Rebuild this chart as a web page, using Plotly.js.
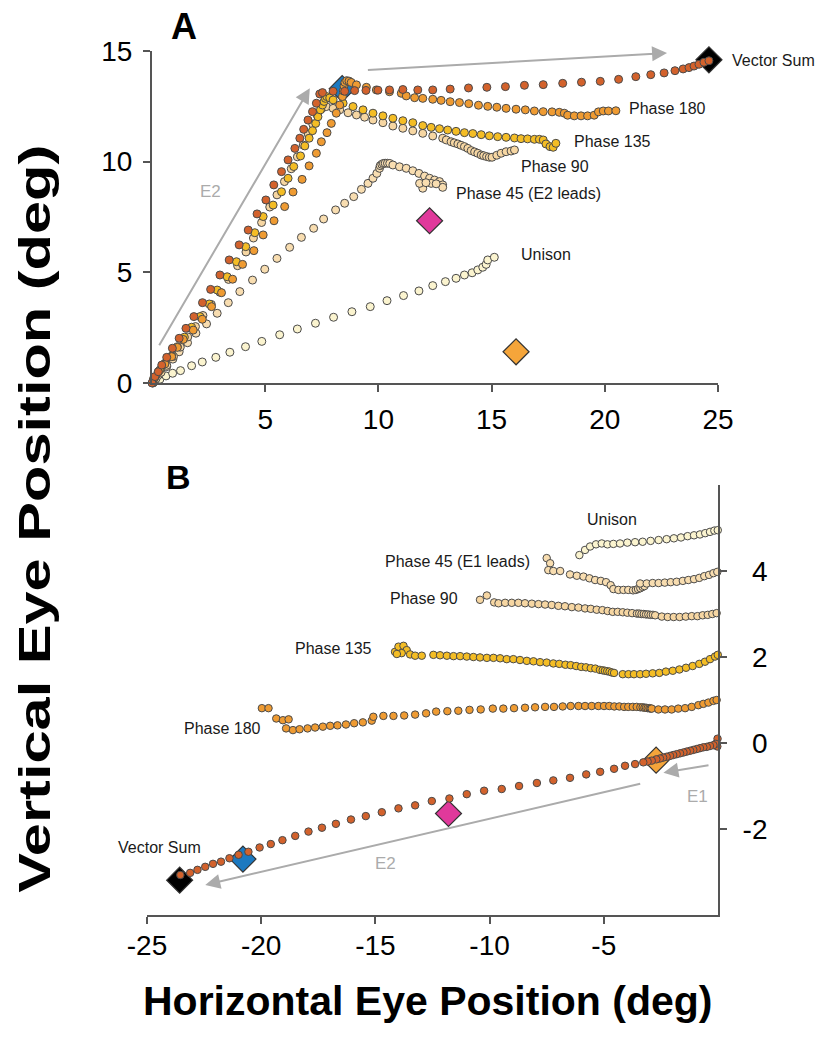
<!DOCTYPE html>
<html><head><meta charset="utf-8">
<script src="https://cdn.plot.ly/plotly-3.0.1.min.js"></script>
<style>html,body{margin:0;padding:0;background:#fff}#chart{width:835px;height:1050px}</style>
</head><body><div id="chart"></div>
<script>
// ---------------- Panel A data (deg) ----------------
const vsA_x = [0,0.13,0.28,0.43,0.65,0.90,1.20,1.50,1.85,2.23,2.59,3.00,3.41,3.85,4.25,4.64,5.03,5.38,5.72,6.01,6.31,6.53,6.70,6.89,7.09,7.26,7.41,7.53,8.00,8.51,8.95,9.45,9.98,10.49,11.08,11.74,12.40,13.17,13.98,14.79,15.61,16.45,17.28,18.14,18.97,19.80,20.61,21.37,22.03,22.62,23.10,23.46,23.72,23.94,24.16,24.38,24.60];
const vsA_y = [0,0.29,0.51,0.81,1.16,1.57,2.02,2.47,3.00,3.63,4.23,4.88,5.56,6.24,6.91,7.64,8.27,8.95,9.55,10.08,10.60,11.06,11.46,11.88,12.26,12.64,13.06,13.12,13.18,13.18,13.21,13.22,13.23,13.24,13.26,13.24,13.24,13.28,13.33,13.36,13.39,13.45,13.48,13.54,13.59,13.63,13.72,13.84,13.93,14.01,14.11,14.19,14.25,14.32,14.40,14.49,14.56];

const p180A_x = [0.06,0.28,0.57,0.87,1.12,1.38,1.82,2.22,2.63,3.07,3.56,4.00,4.50,4.91,5.39,5.86,6.23,6.63,6.94,7.26,7.48,7.73,7.92,8.14,8.29,8.41,8.45,8.48,8.52,8.60,8.70,8.80,9.03,9.47,9.91,10.49,11.01,11.23,11.60,11.96,12.40,12.77,13.17,13.58,13.99,14.42,14.83,15.23,15.64,16.08,16.49,16.89,17.28,17.67,17.99,18.21,18.36,18.65,18.95,19.24,19.53,19.72,19.93,20.16,20.49];
const p180A_y = [0.17,0.51,0.86,1.19,1.61,1.97,2.39,2.88,3.45,4.08,4.69,5.36,5.98,6.69,7.33,7.97,8.63,9.20,9.81,10.38,10.90,11.31,11.73,12.19,12.56,12.94,13.20,13.42,13.58,13.66,13.64,13.58,13.47,13.36,13.24,13.16,13.09,12.97,12.89,12.86,12.82,12.77,12.71,12.67,12.62,12.55,12.50,12.46,12.41,12.37,12.34,12.29,12.26,12.25,12.23,12.19,12.10,12.07,12.07,12.07,12.10,12.25,12.29,12.29,12.30];

const p135A_x = [0.03,0.13,0.35,0.57,0.87,1.12,1.43,1.75,2.12,2.53,2.88,3.32,3.73,4.14,4.54,4.91,5.35,5.72,6.01,6.26,6.56,6.75,6.94,7.09,7.23,7.33,7.44,7.53,7.60,7.66,7.72,7.85,8.00,8.44,8.88,9.32,9.76,10.20,10.64,11.08,11.52,11.96,12.33,12.70,13.06,13.43,13.80,14.17,14.54,14.90,15.27,15.64,16.01,16.30,16.59,16.89,17.11,17.28,17.40,17.58,17.72,17.84];
const p135A_y = [0.01,0.26,0.59,0.89,1.22,1.64,2.07,2.52,3.00,3.57,4.20,4.80,5.48,6.16,6.79,7.52,8.04,8.64,9.25,9.78,10.26,10.71,11.06,11.40,11.73,12.03,12.34,12.56,12.72,12.86,12.94,12.88,12.79,12.64,12.49,12.34,12.19,12.07,11.96,11.85,11.76,11.63,11.55,11.49,11.43,11.37,11.31,11.27,11.22,11.17,11.13,11.10,11.07,11.04,11.03,11.01,11.01,10.98,10.80,10.68,10.65,10.83];

const p90A_x = [0.03,0.18,0.40,0.65,0.95,1.25,1.58,1.92,2.25,2.62,3.00,3.38,3.78,4.15,4.48,4.84,5.20,5.52,5.85,6.15,6.42,6.68,6.90,7.10,7.30,7.50,7.70,8.00,8.29,8.66,9.03,9.39,9.76,10.20,10.64,11.08,11.52,11.96,12.40,12.84,13.00,13.21,13.35,13.51,13.65,13.80,13.95,14.10,14.25,14.39,14.54,14.65,14.78,14.90,15.02,15.23,15.42,15.64,15.86,16.01];
const p90A_y = [0.02,0.20,0.48,0.80,1.20,1.62,2.08,2.55,3.05,3.55,4.10,4.68,5.30,5.92,6.55,7.25,7.95,8.50,9.10,9.68,10.22,10.75,11.25,11.70,12.10,12.40,12.49,12.41,12.34,12.21,12.11,12.01,11.88,11.76,11.61,11.51,11.39,11.28,11.16,11.06,10.98,10.90,10.85,10.80,10.74,10.68,10.60,10.50,10.44,10.38,10.30,10.27,10.23,10.20,10.20,10.29,10.38,10.45,10.48,10.53];

const p45A_x = [0.06,0.28,0.65,0.92,1.20,1.57,1.94,2.41,2.88,3.37,3.88,4.44,4.98,5.52,6.08,6.60,7.14,7.58,8.11,8.51,8.91,9.25,9.54,9.76,9.93,10.05,10.08,10.15,10.22,10.30,10.40,10.50,10.64,10.93,11.23,11.52,11.79,12.04,12.26,12.48,12.70,12.84,12.84,12.33,11.96,11.82,12.10,12.55];
const p45A_y = [0.03,0.36,0.74,1.08,1.41,1.82,2.25,2.67,3.15,3.63,4.13,4.65,5.14,5.63,6.13,6.58,6.99,7.41,7.82,8.12,8.42,8.75,9.02,9.25,9.47,9.70,9.82,9.88,9.92,9.93,9.93,9.92,9.85,9.77,9.70,9.59,9.47,9.35,9.25,9.17,9.10,8.95,8.84,9.02,8.80,9.02,9.05,9.00];

const uniA_x = [0.05,0.35,0.62,0.91,1.26,1.75,2.22,2.82,3.44,4.13,4.85,5.64,6.42,7.22,8.02,8.83,9.64,10.38,11.11,11.79,12.40,12.96,13.43,13.80,14.14,14.39,14.61,14.76,14.83,15.12];
const uniA_y = [0.00,0.17,0.32,0.44,0.56,0.78,0.95,1.16,1.39,1.64,1.88,2.18,2.44,2.70,2.97,3.22,3.45,3.72,3.95,4.16,4.40,4.58,4.73,4.88,4.98,5.11,5.23,5.36,5.56,5.68];

// endpoints: E2 alone, average, E1 alone, vector sum
const diamA_x = [8.40, 12.26, 16.08, 24.60];
const diamA_y = [13.30, 7.33, 1.41, 14.60];

// stimulation vectors drawn as arrows [tailX, tailY, headX, headY]
const arrowA_E1 = [9.47, 14.14, 22.75, 14.91];
const arrowA_E2 = [0.28, 1.64, 6.97, 13.32];

// ---------------- Panel B data (deg) ----------------
const vsB_x = [0.01,-0.02,-0.03,-0.10,-0.20,-0.35,-0.49,-0.64,-0.79,-0.93,-1.08,-1.22,-1.37,-1.51,-1.66,-1.81,-1.96,-2.10,-2.25,-2.40,-2.54,-2.70,-2.90,-3.08,-3.27,-3.63,-4.07,-4.55,-5.16,-5.77,-6.48,-7.21,-7.93,-8.71,-9.47,-10.24,-11.00,-11.76,-12.53,-13.26,-13.99,-14.72,-15.42,-16.07,-16.73,-17.34,-17.93,-18.51,-19.07,-19.58,-20.07,-20.56,-20.99,-21.39,-21.76,-22.11,-22.45,-22.79,-23.11,-23.54];
const vsB_y = [0.01,0.10,-0.08,-0.02,-0.05,-0.07,-0.09,-0.10,-0.12,-0.14,-0.16,-0.18,-0.20,-0.22,-0.24,-0.26,-0.28,-0.30,-0.32,-0.34,-0.36,-0.38,-0.41,-0.43,-0.45,-0.49,-0.53,-0.60,-0.67,-0.73,-0.81,-0.87,-0.93,-1.00,-1.07,-1.11,-1.19,-1.29,-1.35,-1.45,-1.52,-1.61,-1.70,-1.78,-1.88,-1.97,-2.06,-2.16,-2.26,-2.35,-2.43,-2.53,-2.60,-2.68,-2.76,-2.81,-2.88,-2.95,-3.02,-3.07];

const p180B_x = [-19.97,-19.68,-19.34,-19.05,-18.80,-18.91,-18.61,-18.32,-17.97,-17.64,-17.30,-16.98,-16.66,-16.29,-15.93,-15.55,-15.16,-15.09,-14.65,-14.21,-13.74,-13.26,-12.78,-12.34,-11.85,-11.37,-10.88,-10.39,-9.86,-9.40,-8.93,-8.45,-8.01,-7.57,-7.18,-6.80,-6.45,-6.11,-5.82,-5.53,-5.24,-4.99,-4.76,-4.54,-4.32,-4.11,-3.93,-3.73,-3.56,-3.40,-3.30,-3.22,-3.15,-3.08,-3.00,-2.95,-2.90,-2.61,-2.32,-2.03,-1.74,-1.44,-1.15,-0.86,-0.64,-0.42,-0.20,-0.06];
const p180B_y = [0.81,0.81,0.57,0.53,0.55,0.34,0.30,0.32,0.34,0.36,0.38,0.40,0.41,0.43,0.46,0.48,0.52,0.61,0.63,0.63,0.64,0.66,0.69,0.73,0.74,0.75,0.77,0.78,0.80,0.80,0.81,0.82,0.83,0.84,0.84,0.85,0.86,0.86,0.86,0.86,0.86,0.86,0.86,0.85,0.85,0.84,0.84,0.84,0.84,0.83,0.83,0.82,0.82,0.81,0.81,0.80,0.80,0.78,0.78,0.78,0.80,0.81,0.84,0.88,0.91,0.94,0.98,1.00];

const p135B_x = [-14.14,-13.99,-13.77,-13.63,-13.85,-14.06,-13.48,-13.26,-12.97,-12.46,-12.17,-11.87,-11.58,-11.29,-11.00,-10.71,-10.42,-10.12,-9.83,-9.54,-9.25,-8.96,-8.67,-8.37,-8.08,-7.79,-7.50,-7.21,-6.95,-6.68,-6.45,-6.21,-5.99,-5.78,-5.57,-5.37,-5.17,-5.05,-4.95,-4.85,-4.75,-4.65,-4.55,-4.17,-3.92,-3.68,-3.41,-3.15,-2.86,-2.57,-2.28,-1.98,-1.69,-1.40,-1.11,-0.82,-0.57,-0.35,-0.13,-0.01];
const p135B_y = [2.12,2.24,2.26,2.16,2.09,2.07,2.06,2.03,2.03,2.05,2.04,2.03,2.02,2.02,2.01,2.00,1.99,1.98,1.98,1.97,1.95,1.95,1.93,1.91,1.90,1.88,1.87,1.85,1.84,1.82,1.81,1.79,1.77,1.76,1.74,1.73,1.70,1.69,1.68,1.67,1.66,1.64,1.63,1.60,1.60,1.60,1.60,1.61,1.62,1.63,1.66,1.68,1.71,1.75,1.79,1.84,1.89,1.95,2.01,2.05];

const p90B_x = [-10.42,-10.12,-9.80,-9.61,-9.32,-9.03,-8.74,-8.45,-8.15,-7.86,-7.57,-7.28,-6.99,-6.70,-6.40,-6.11,-5.82,-5.57,-5.31,-5.06,-4.83,-4.61,-4.39,-4.17,-3.97,-3.76,-3.55,-3.45,-3.35,-3.25,-3.15,-3.05,-2.95,-2.85,-2.75,-2.46,-2.20,-1.94,-1.68,-1.41,-1.15,-0.90,-0.67,-0.45,-0.25,-0.06];
const p90B_y = [3.33,3.43,3.27,3.25,3.26,3.26,3.26,3.25,3.24,3.23,3.22,3.21,3.19,3.18,3.16,3.15,3.13,3.12,3.10,3.09,3.07,3.05,3.05,3.04,3.03,3.02,3.01,3.01,3.00,3.00,2.99,2.99,2.98,2.98,2.97,2.94,2.93,2.93,2.93,2.94,2.95,2.95,2.97,2.98,3.00,3.02];

const p45B_x = [-7.50,-7.35,-7.43,-7.21,-6.91,-6.48,-6.18,-5.89,-5.63,-5.38,-5.13,-4.90,-4.70,-4.58,-4.36,-4.14,-3.93,-3.72,-3.60,-3.50,-3.40,-3.30,-3.22,-3.41,-3.12,-2.86,-2.60,-2.33,-2.07,-1.81,-1.54,-1.30,-1.05,-0.82,-0.60,-0.39,-0.20,-0.03];
const p45B_y = [4.30,4.18,4.02,4.00,4.00,3.92,3.89,3.87,3.83,3.79,3.77,3.74,3.67,3.58,3.56,3.56,3.56,3.55,3.56,3.58,3.60,3.63,3.65,3.71,3.71,3.72,3.72,3.73,3.74,3.75,3.77,3.79,3.81,3.84,3.88,3.91,3.95,3.98];

const uniB_x = [-6.07,-5.82,-5.60,-5.34,-5.09,-4.84,-4.58,-4.29,-3.97,-3.63,-3.30,-2.95,-2.60,-2.25,-1.93,-1.62,-1.33,-1.05,-0.79,-0.56,-0.35,-0.16,-0.01];
const uniB_y = [4.37,4.49,4.57,4.62,4.64,4.62,4.63,4.64,4.66,4.67,4.68,4.70,4.72,4.74,4.76,4.78,4.81,4.83,4.85,4.88,4.91,4.94,4.95];

const diamB_x = [-20.80, -11.80, -2.71, -23.57];
const diamB_y = [-2.70, -1.64, -0.40, -3.19];

const arrowB_E1 = [-0.35, -0.51, -2.39, -0.69];
const arrowB_E2 = [-3.34, -0.94, -22.45, -3.30];

// tick labels
const xTicksA = [5, 10, 15, 20, 25];
const yTicksA = [0, 5, 10, 15];
const xTicksB = [-25, -20, -15, -10, -5];
const xTickTextB = ['-25', '-20', '-15', '-10', '-5'];
const yTicksB = [-2, 0, 2, 4];
const yTickTextB = ['-2', '\u20040', '\u20042', '\u20044'];

// trajectory labels (data coordinates inside the axes)
const labA_text = ['Phase 180', 'Phase 135', 'Phase 90', 'Phase 45 (E2 leads)', 'Unison'];
const labA_x = [20.96, 18.55, 16.23, 13.33, 16.23];
const labA_y = [12.38, 10.90, 9.77, 8.57, 5.81];
const labB_text = ['Unison', 'Phase 45 (E1 leads)', 'Phase 90', 'Phase 135', 'Phase 180'];
const labB_x = [-5.82, -14.65, -14.47, -18.59, -23.47];
const labB_y = [5.19, 4.22, 3.36, 2.19, 0.34];
// "Vector Sum" labels sit just outside the axis ranges, so they are placed on the page
const vsLabel_px = [[730, 60], [116, 847]];

// ---------------- styling ----------------
const FONT = 'Liberation Sans, Arial, Helvetica, sans-serif';
const C = {
  vs: '#D3622C', p180: '#EF9B32', p135: '#F4BD25', p90: '#F6D6A2', p45: '#F8DDB0', uni: '#FBF4CF',
  blue: '#1C79C0', magenta: '#E0399B', orange: '#F5A53A', black: '#000000'
};
const OUTLINE = '#4a4a4a';

function dots(x, y, color, xa, ya, size) {
  return { type: 'scatter', mode: 'markers', x: x, y: y, xaxis: xa, yaxis: ya, cliponaxis: false,
    hoverinfo: 'skip',
    marker: { color: color, size: size, line: { color: OUTLINE, width: 1 } } };
}
function diamonds(x, y, xa, ya) {
  return { type: 'scatter', mode: 'markers', x: x, y: y, xaxis: xa, yaxis: ya, cliponaxis: false,
    hoverinfo: 'skip',
    marker: { symbol: 'diamond', size: 20, color: [C.blue, C.magenta, C.orange, C.black],
      line: { color: '#333', width: 1.2 } } };
}

const traces = [
  diamonds(diamA_x, diamA_y, 'x', 'y'),
  dots(uniA_x, uniA_y, C.uni, 'x', 'y', 8),
  dots(p45A_x, p45A_y, C.p45, 'x', 'y', 8),
  dots(p90A_x, p90A_y, C.p90, 'x', 'y', 8),
  dots(p135A_x, p135A_y, C.p135, 'x', 'y', 8),
  dots(p180A_x, p180A_y, C.p180, 'x', 'y', 8),
  dots(vsA_x, vsA_y, C.vs, 'x', 'y', 8),

  diamonds(diamB_x, diamB_y, 'x2', 'y2'),
  dots(uniB_x, uniB_y, C.uni, 'x2', 'y2', 7.5),
  dots(p45B_x, p45B_y, C.p45, 'x2', 'y2', 7.5),
  dots(p90B_x, p90B_y, C.p90, 'x2', 'y2', 7.5),
  dots(p135B_x, p135B_y, C.p135, 'x2', 'y2', 7.5),
  dots(p180B_x, p180B_y, C.p180, 'x2', 'y2', 7.5),
  dots(vsB_x, vsB_y, C.vs, 'x2', 'y2', 7.5)
];

const annotations = [];
function arrow(v, xr, yr) {
  annotations.push({ xref: xr, yref: yr, axref: xr, ayref: yr, x: v[2], y: v[3], ax: v[0], ay: v[1],
    text: '', showarrow: true, arrowhead: 2, arrowsize: 1.5, arrowwidth: 2, arrowcolor: '#ABABAB', standoff: 0 });
}
arrow(arrowA_E1, 'x', 'y');
arrow(arrowA_E2, 'x', 'y');
arrow(arrowB_E1, 'x2', 'y2');
arrow(arrowB_E2, 'x2', 'y2');

function label(t, x, y, xr, yr, size, color, xanchor) {
  annotations.push({ xref: xr, yref: yr, x: x, y: y, text: t, showarrow: false, xanchor: xanchor || 'left',
    yanchor: 'middle', font: { family: FONT, size: size, color: color } });
}
labA_text.forEach((t, i) => label(t, labA_x[i], labA_y[i], 'x', 'y', 16, '#1a1a1a'));
labB_text.forEach((t, i) => label(t, labB_x[i], labB_y[i], 'x2', 'y2', 16, '#1a1a1a'));
vsLabel_px.forEach(p => label('Vector Sum', p[0] / 835, 1 - p[1] / 1050, 'paper', 'paper', 16, '#1a1a1a'));
label('E1', 15.49, 15.35, 'x', 'y', 17, '#ABABAB', 'center');
label('E2', 2.60, 8.64, 'x', 'y', 17, '#ABABAB', 'center');
label('E1', -0.90, -1.25, 'x2', 'y2', 17, '#ABABAB', 'center');
label('E2', -14.57, -2.80, 'x2', 'y2', 17, '#ABABAB', 'center');

// panel letters and shared axis titles
annotations.push({ xref: 'paper', yref: 'paper', x: 184/835, y: 1 - 27/1050, text: 'A', showarrow: false,
  xanchor: 'center', yanchor: 'middle', font: { family: FONT, size: 36, color: '#000', weight: 'bold' } });
annotations.push({ xref: 'paper', yref: 'paper', x: 178/835, y: 1 - 477/1050, text: 'B', showarrow: false,
  xanchor: 'center', yanchor: 'middle', font: { family: FONT, size: 34, color: '#000', weight: 'bold' } });
annotations.push({ xref: 'paper', yref: 'paper', x: 35/835, y: 1 - 519/1050, text: 'Vertical Eye Position (deg)',
  showarrow: false, textangle: -90, xanchor: 'center', yanchor: 'middle',
  font: { family: FONT, size: 44, color: '#000', weight: 'bold' } });
annotations.push({ xref: 'paper', yref: 'paper', x: 427/835, y: 1 - 1001/1050, text: 'Horizontal Eye Position (deg)',
  showarrow: false, xanchor: 'center', yanchor: 'middle',
  font: { family: FONT, size: 41, color: '#000', weight: 'bold' } });

const axBase = {
  showgrid: false, zeroline: false, showline: true, linecolor: '#555', linewidth: 2,
  ticks: 'outside', ticklen: 7, tickwidth: 2, tickcolor: '#555',
  tickfont: { family: FONT, size: 28, color: '#000' }, fixedrange: true
};

const layout = {
  width: 835, height: 1050,
  margin: { l: 0, r: 0, t: 0, b: 0 },
  paper_bgcolor: '#fff', plot_bgcolor: '#fff',
  showlegend: false,
  xaxis: Object.assign({}, axBase, { domain: [152/835, 718/835], range: [0, 25], anchor: 'y',
    tickmode: 'array', tickvals: xTicksA, ticklabelstandoff: 3 }),
  yaxis: Object.assign({}, axBase, { domain: [1 - 383/1050, 1 - 51/1050], range: [0, 15], anchor: 'x',
    tickmode: 'array', tickvals: yTicksA, ticklabelstandoff: 5 }),
  xaxis2: Object.assign({}, axBase, { domain: [147/835, 718/835], range: [-25, 0], anchor: 'y2',
    tickmode: 'array', tickvals: xTicksB, ticktext: xTickTextB, ticklabelstandoff: -3 }),
  yaxis2: Object.assign({}, axBase, { domain: [1 - 915/1050, 1 - 485/1050], range: [-4, 6], anchor: 'x2',
    side: 'right', tickmode: 'array', tickvals: yTicksB, ticktext: yTickTextB, ticklabelstandoff: 10 }),
  annotations: annotations
};

Plotly.newPlot('chart', traces, layout, { displayModeBar: false, staticPlot: true }).then(function () {
  // the original vertical axis title is drawn elongated along its reading direction
  document.querySelectorAll('text.annotation-text').forEach(function (t) {
    if (t.textContent === 'Vertical Eye Position (deg)') {
      t.setAttribute('textLength', '748');
      t.setAttribute('lengthAdjust', 'spacingAndGlyphs');
    }
  });
});
</script></body></html>
